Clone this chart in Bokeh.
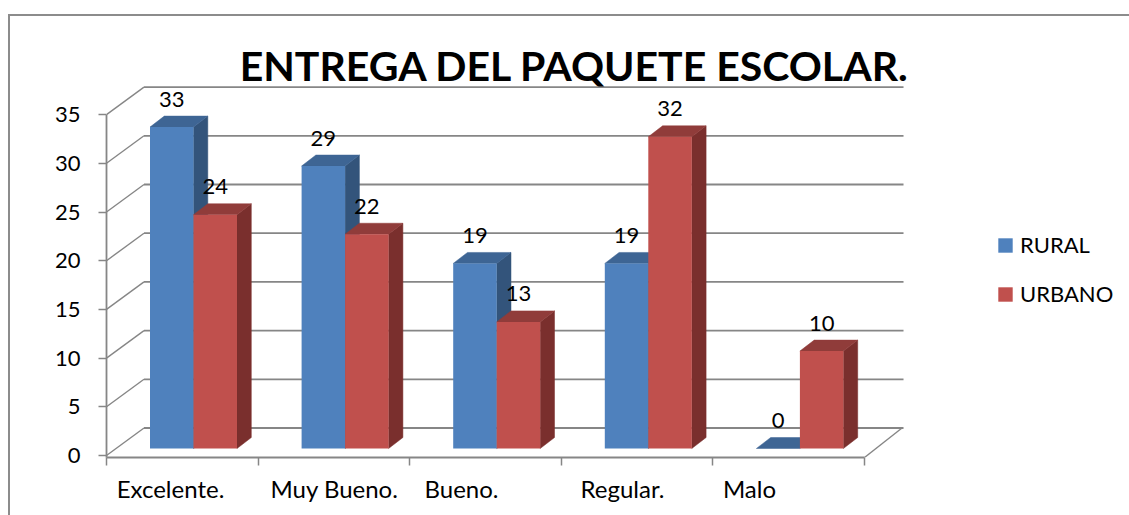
from bokeh.plotting import figure
from bokeh.models import (ColumnDataSource, FixedTicker, Legend, LegendItem)
from bokeh.core.properties import value
from bokeh.embed import file_html
from bokeh.resources import INLINE

categories = ["Excelente.", "Muy Bueno.", "Bueno.", "Regular.", "Malo"]
rural = [33, 29, 19, 19, 0]
urbano = [24, 22, 13, 32, 10]
y_ticks = [0, 5, 10, 15, 20, 25, 30, 35]
title_text = "ENTREGA DEL PAQUETE ESCOLAR."

FONT = "Lato"
GRID = "#868686"
BORDER = "#8c8c8c"
PX_X = 151.6   # pixels per category
PX_Y = 9.74    # pixels per value unit
W, H = 1129, 515
LEFT, BOTTOM = 106, 58
y0_offset = 2 / PX_Y
wall_dx, wall_dy = 37.5 / PX_X, 27.5 / PX_Y
bar_dx, bar_dy = 14.3 / PX_X, 11 / PX_Y
bar_base = 7 / PX_Y
bar_w = 43.5 / PX_X
n = len(categories)

grad = f"linear-gradient({BORDER},{BORDER})"
p = figure(width=W, height=H, output_backend="svg", toolbar_location=None,
           x_range=(0, (W - LEFT) / PX_X),
           y_range=(-y0_offset, (H - BOTTOM) / PX_Y - y0_offset),
           min_border_left=LEFT, min_border_right=0, min_border_top=0, min_border_bottom=BOTTOM,
           border_fill_color=None, background_fill_color=None,
           styles={"background": f"{grad} 8px 14px/2px 100% no-repeat, {grad} 8px 14px/100% 2px no-repeat"})
p.grid.visible = False
p.outline_line_color = None

# back wall gridlines and side wall diagonals
p.segment(x0=[wall_dx] * len(y_ticks), x1=[n + wall_dx + 0.01] * len(y_ticks),
          y0=[v + wall_dy for v in y_ticks], y1=[v + wall_dy for v in y_ticks],
          line_color=GRID, line_width=1.8)
p.segment(x0=[0] * len(y_ticks), x1=[wall_dx] * len(y_ticks),
          y0=y_ticks, y1=[v + wall_dy for v in y_ticks],
          line_color=GRID, line_width=1.4)
p.segment(x0=[n], x1=[n + wall_dx], y0=[-y0_offset], y1=[wall_dy],
          line_color=GRID, line_width=1.4)


def draw_series(values, offset, front, top, side):
    renderers = []
    for i, v in enumerate(values):
        l = i + offset
        r = l + bar_w
        b = bar_base
        t = b + v
        if v > 0:
            p.patch([r, r + bar_dx, r + bar_dx, r], [b, b + bar_dy, t + bar_dy, t],
                    fill_color=side, line_color=side, line_width=0.5)
        p.patch([l, r, r + bar_dx, l + bar_dx], [t, t, t + bar_dy, t + bar_dy],
                fill_color=top, line_color=top, line_width=0.5)
        if v > 0:
            renderers.append(p.quad(left=[l], right=[r], bottom=[b], top=[t],
                                    fill_color=front, line_color=None))
    return renderers


r_rural = draw_series(rural, 43.5 / PX_X, "#4F81BD", "#3E6594", "#33547B")
r_urbano = draw_series(urbano, 87 / PX_X, "#C0504D", "#903C3A", "#7A2F2D")

# data labels
gap = 17 / PX_Y
lab = ColumnDataSource(dict(
    x=[i + 65.25 / PX_X for i in range(n)] + [i + 108.75 / PX_X for i in range(n)],
    y=[v + bar_base + bar_dy + gap for v in rural] + [v + bar_base + bar_dy + gap for v in urbano],
    t=[str(v) for v in rural] + [str(v) for v in urbano]))
p.text(x="x", y="y", text="t", source=lab, text_align="center", text_baseline="middle",
       text_font=value(FONT), text_font_size="22px", text_color="#000000")

# title
p.text(x=[(574.5 - 106) / PX_X], y=[(455 - 65) / PX_Y], text=[title_text], text_align="center",
       text_baseline="middle", text_font=value(FONT), text_font_style="bold",
       text_font_size="41px", text_color="#000000")

# axes
ya = p.yaxis[0]
ya.ticker = FixedTicker(ticks=y_ticks)
ya.bounds = (-y0_offset, 35)
ya.axis_line_color = GRID
ya.axis_line_width = 1.8
ya.major_tick_line_color = GRID
ya.major_tick_line_width = 1.5
ya.major_tick_in = 0
ya.major_tick_out = 8
ya.minor_tick_line_color = None
ya.major_label_standoff = 18
ya.major_label_text_font = FONT
ya.major_label_text_font_size = "22px"
ya.major_label_text_color = "#000000"

label_px = [170, 334, 461, 622, 749]
label_pos = [(c - 106) / PX_X for c in label_px]
xa = p.xaxis[0]
xa.ticker = FixedTicker(ticks=label_pos, minor_ticks=list(range(n + 1)))
xa.major_label_overrides = dict(zip(label_pos, categories))
xa.bounds = (0, n)
xa.axis_line_color = GRID
xa.axis_line_width = 1.8
xa.major_tick_line_color = None
xa.minor_tick_line_color = GRID
xa.minor_tick_line_width = 1.5
xa.minor_tick_in = 0
xa.minor_tick_out = 8
xa.major_tick_in = 0
xa.major_tick_out = 0
xa.major_label_standoff = 8
xa.major_label_text_font = FONT
xa.major_label_text_font_size = "24px"
xa.major_label_text_color = "#000000"

legend = Legend(items=[LegendItem(label="RURAL", renderers=[r_rural[0]]),
                       LegendItem(label="URBANO", renderers=[r_urbano[0]])],
                location=(890, 150), orientation="vertical", border_line_color=None,
                background_fill_color=None, glyph_width=18, glyph_height=18, spacing=22,
                padding=0, margin=0, label_standoff=6, label_text_font=FONT,
                label_text_font_size="22px", label_text_color="#000000")
p.add_layout(legend)

open("out.html", "w").write(file_html(p, INLINE))
